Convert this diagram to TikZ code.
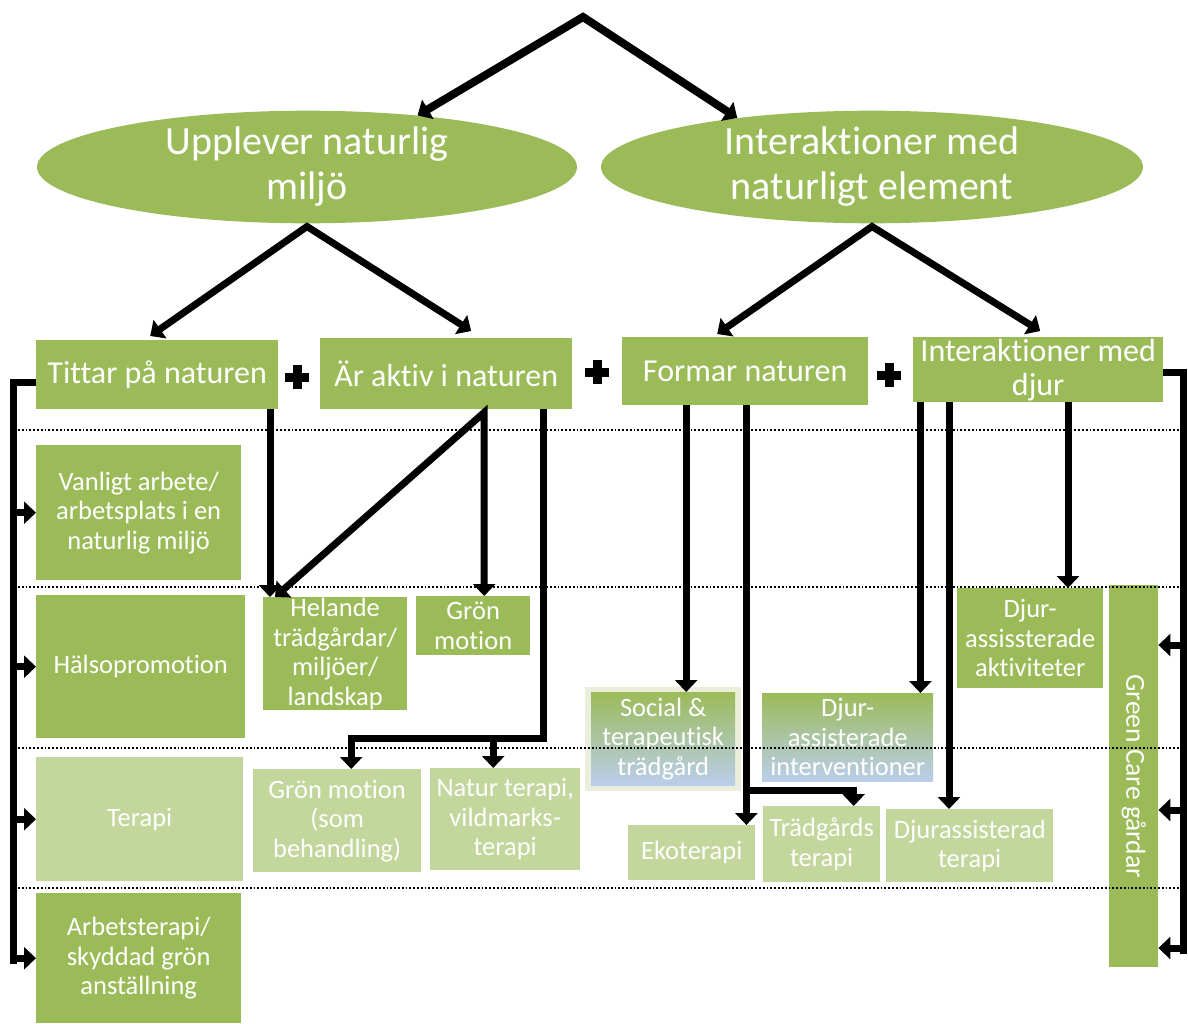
\documentclass[tikz,border=0pt]{standalone}
\usepackage{fontspec}
\setmainfont[Ligatures=NoCommon]{Carlito}
\usetikzlibrary{arrows.meta,shapes.geometric,calc}
\definecolor{gA}{HTML}{9BBB59}
\definecolor{gB}{HTML}{C3D69B}
\definecolor{bA}{HTML}{AFC5E8}
\definecolor{glow}{HTML}{E9EFDC}
\begin{document}
\begin{tikzpicture}[x=1pt,y=-1pt,
  box/.style={fill=gA, text=white, inner sep=0pt, align=center, anchor=north west, font=\fontsize{26.5}{29.5}\selectfont},
  lbox/.style={box, fill=gB},
  big/.style={font=\fontsize{32}{34}\selectfont},
  sz/.style 2 args={minimum width=#1, minimum height=#2},
  grad/.style={shading=axis, top color=gA, middle color=gA!45!bA, bottom color=bA!85!white},
  ln/.style={line width=7pt, line join=miter},
  arr/.style={ln, -{Triangle[width=22pt,length=12pt]}},
  arr2/.style={ln, {Triangle[width=22pt,length=12pt]}-{Triangle[width=22pt,length=12pt]}},
  dots/.style={line width=1.8pt, dotted},
  ell/.style={ellipse, fill=gA, text=white, inner sep=0pt, align=center, font=\fontsize{40}{45}\selectfont},
  plus/.pic={\fill (-12,-4.5) rectangle (12,4.5); \fill (-4.5,-12) rectangle (4.5,12);}
]
\useasboundingbox (0,0) rectangle (1188,1023);

% ellipses
\node[ell, minimum width=540pt, minimum height=110pt] (e1) at (307,167) {Upplever naturlig\\miljö};
\node[ell, minimum width=542pt, minimum height=110pt] (e2) at (872,167) {Interaktioner med\\naturligt element};

% second level
\node[box,big,sz={242pt}{69pt}] (tittar) at (36,340) {Tittar på naturen};
\node[box,big,sz={252pt}{71pt}] (aktiv) at (320,338) {Är aktiv i naturen};
\node[box,big,sz={246pt}{68pt}] (formar) at (622,337) {Formar naturen};
\node[box,big,sz={250pt}{65pt}] (idjur) at (913,337) {Interaktioner med\\djur};
\pic at (297,377) {plus};
\pic at (597,372) {plus};
\pic at (889,375) {plus};

% left column
\node[box,sz={205pt}{135pt}] (vanligt) at (36,445) {Vanligt arbete/\\arbetsplats i en\\naturlig miljö};
\node[box,sz={209pt}{143pt}] (halso) at (36,595) {Hälsopromotion};
\node[lbox,sz={207pt}{124pt}] (terapi) at (36,757) {Terapi};
\node[box,sz={205pt}{130pt}] (arbets) at (36,893) {Arbetsterapi/\\skyddad grön\\anställning};

% other boxes
\node[box,sz={144pt}{113pt}] (helande) at (263,597) {Helande\\trädgårdar/\\miljöer/\\landskap};
\node[box,sz={114pt}{59pt}] (gron) at (416,596) {Grön\\motion};
\node[lbox,sz={168pt}{103pt}] (gms) at (253,769) {Grön motion\\(som\\behandling)};
\node[lbox,sz={150pt}{102pt}] (natur) at (430,768) {Natur terapi,\\vildmarks-\\terapi};
\node[fill=glow, inner sep=0pt, anchor=north west, sz={156pt}{104pt}] (socglow) at (585,687) {};
\node[box,grad,sz={144pt}{93pt}] (social) at (591,692) {Social \&\\terapeutisk\\trädgård};
\node[box,grad,sz={171pt}{88pt}] (dai) at (762,693) {Djur-\\assisterade\\interventioner};
\node[lbox,sz={127pt}{55pt}] (eko) at (628,825) {Ekoterapi};
\node[lbox,sz={117pt}{76pt}] (trad) at (763,806) {Trädgårds\\terapi};
\node[lbox,sz={167pt}{73pt}] (dat) at (886,809) {Djurassisterad\\terapi};
\node[box,sz={146pt}{100pt}] (daa) at (957,588) {Djur-\\assissterade\\aktiviteter};
\node[box,sz={49pt}{382pt}] (gc) at (1109,585) {};
\node[rotate=-90, text=white, font=\fontsize{27.5}{30}\selectfont] (gct) at (gc.center) {Green Care gårdar};

% top arrows
\coordinate (apex) at (583,17);
\draw[arr2, line width=8pt] (e1.25) -- (apex) -- (e2.160);
\coordinate (a1) at ([yshift=-3pt]e1.south);
\draw[arr2] ([xshift=-7pt,yshift=4pt]tittar.north) -- (a1) -- ([xshift=25pt,yshift=7pt]aktiv.north);
\coordinate (a2) at ([yshift=-3pt]e2.south);
\draw[arr2] ([xshift=-28pt,yshift=3pt]formar.north) -- (a2) -- ([xshift=2pt,yshift=6pt]idjur.north);

% left bracket
\coordinate (lb) at (13,0);
\coordinate (lbend) at ($(lb |- arbets.west)+(0,6)$);
\draw[ln] ([yshift=-8pt]tittar.west) -| (lbend);
\draw[arr] (lb |- vanligt.west) -- (vanligt.west);
\draw[arr] (lb |- halso.west) -- (halso.west);
\draw[arr] (lb |- terapi.west) -- (terapi.west);
\draw[arr] (lb |- arbets.west) -- (arbets.west);

% right bracket
\coordinate (rb) at (1183,0);
\coordinate (rbend) at ($(rb |- gc.south)+(0,-13)$);
\draw[ln] ([yshift=-3pt]idjur.east) -| (rbend);
\coordinate (g1) at ([yshift=-60pt]gc.north east);
\coordinate (g2) at ([yshift=-225pt]gc.north east);
\coordinate (g3) at ([yshift=-363pt]gc.north east);
\draw[arr] (rb |- g1) -- (g1);
\draw[arr] (rb |- g2) -- (g2);
\draw[arr] (rb |- g3) -- (g3);

% Tittar -> Helande
\coordinate (h1) at ([xshift=7pt]helande.north west);
\draw[arr] (h1 |- tittar.south) -- (h1);

% Aktiv
\coordinate (ak1) at ([xshift=38pt,yshift=-3pt]aktiv.south);
\coordinate (gr1) at ([xshift=11pt]gron.north);
\draw[arr2] ([xshift=12pt]helande.north west) -- (ak1) -- (gr1);
\coordinate (ak2) at ([xshift=97pt]aktiv.south);
\coordinate (gm1) at ([xshift=14pt]gms.north);
\coordinate (na1) at ([xshift=-12pt]natur.north);
\coordinate (jn) at ($(ak2)+(0,329)$);
\draw[arr] (ak2) -- (jn) -| (gm1);
\draw[arr] (na1 |- jn) -- (na1);

% Formar
\coordinate (so1) at ([xshift=23pt]social.north);
\draw[arr] (so1 |- formar.south) -- (so1);
\coordinate (ek1) at ([xshift=-9pt]eko.north east);
\draw[arr] (ek1 |- formar.south) -- (ek1);
\coordinate (tr1) at ([xshift=32pt]trad.north);
\coordinate (jn2) at ($(ek1)+(0,-35)$);
\draw[arr] (jn2) -| (tr1);

% Djur
\coordinate (di1) at ([xshift=-13pt]dai.north east);
\draw[arr] (di1 |- idjur.south) -- (di1);
\coordinate (dt1) at ([xshift=63pt]dat.north west);
\draw[arr] (dt1 |- idjur.south) -- (dt1);
\coordinate (da1) at ([xshift=111pt]daa.north west);
\draw[arr] (da1 |- idjur.south) -- (da1);

% dotted separators
\draw[dots] (18,430) -- (1188,430);
\draw[dots] (18,587) -- (1188,587);
\draw[dots] (18,748) -- (1188,748);
\draw[dots] (18,888) -- (1188,888);
\end{tikzpicture}
\end{document}
